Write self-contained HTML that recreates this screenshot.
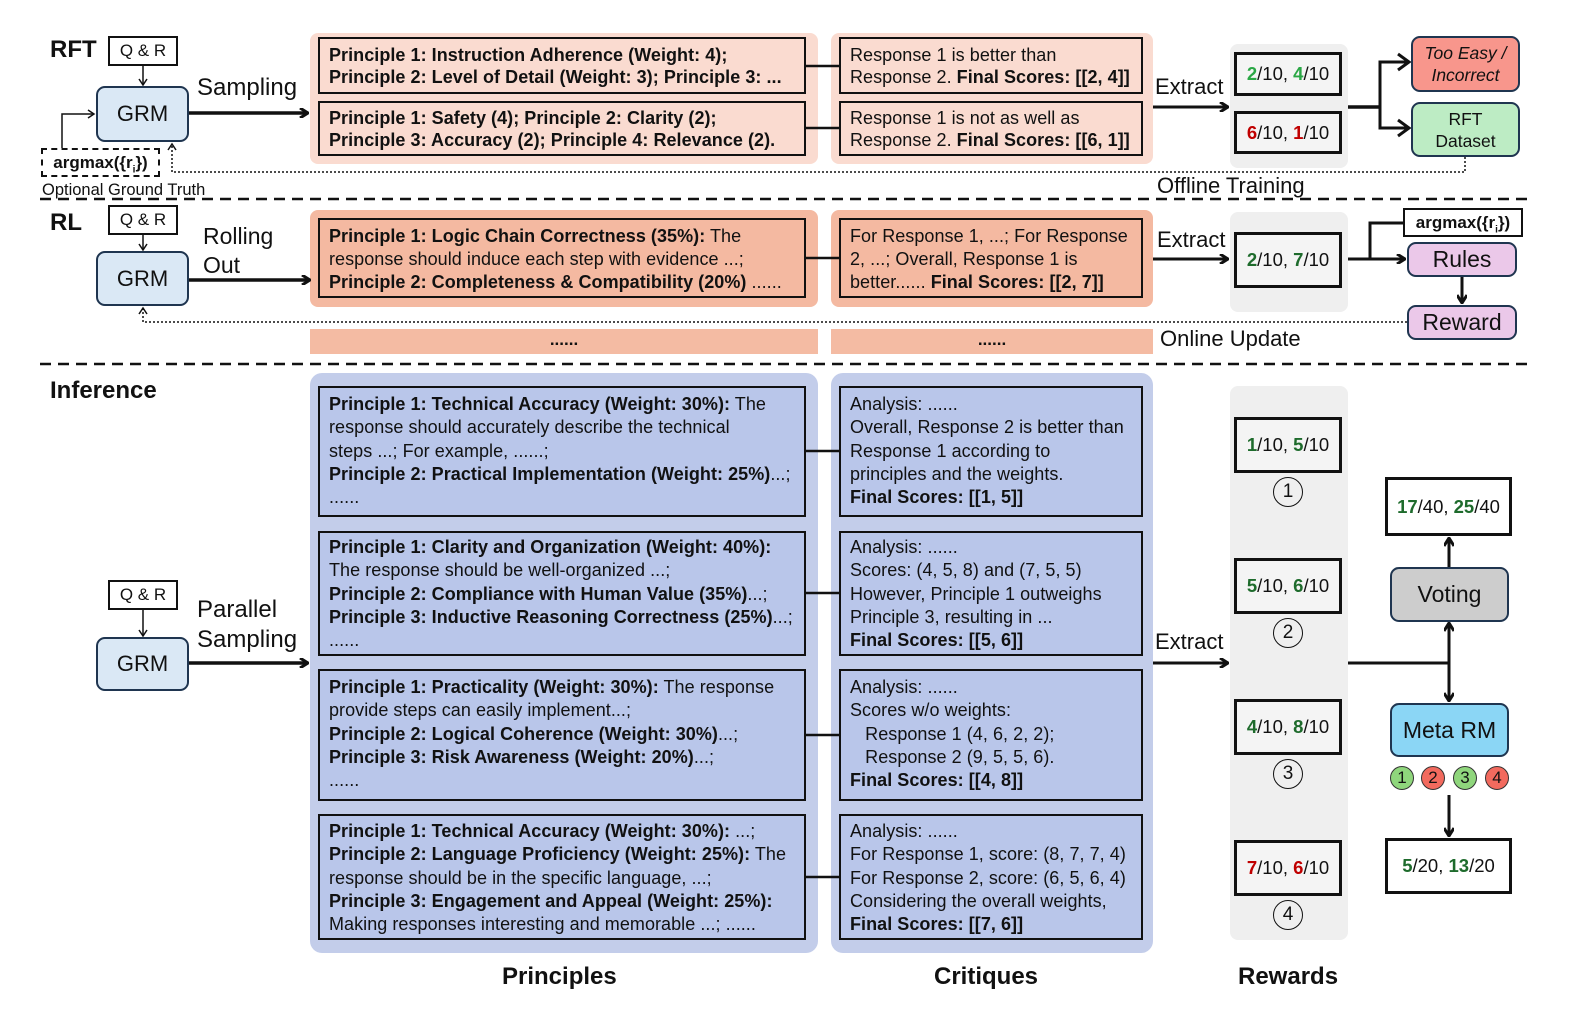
<!DOCTYPE html>
<html><head><meta charset="utf-8"><style>
body{margin:0;width:1570px;height:1024px;background:#fff;position:relative;overflow:hidden;font-family:"Liberation Sans",sans-serif;color:#111}
.a{position:absolute;box-sizing:border-box}
.bx{position:absolute;box-sizing:border-box;border:2px solid #111;font-size:18px;line-height:23.3px;padding:5px 9px;white-space:nowrap;letter-spacing:0.05px}
.rnd{border-radius:9px;border:2px solid #1f3550;display:flex;align-items:center;justify-content:center;text-align:center}
.t{position:absolute;white-space:nowrap}
b{font-weight:bold}
.g{color:#2aa745;font-weight:bold}.dg{color:#1e6b2c;font-weight:bold}.r{color:#c00000;font-weight:bold}
.sc{position:absolute;box-sizing:border-box;border:3px solid #111;background:#f4f4f4;font-size:18.5px;display:flex;align-items:center;justify-content:center}
.circ{position:absolute;width:30px;height:30px;border:1.5px solid #111;border-radius:50%;box-sizing:border-box;text-align:center;line-height:27px;font-size:19px}
.mc{position:absolute;width:24px;height:24px;border:1.5px solid #333;border-radius:50%;box-sizing:border-box;text-align:center;line-height:21px;font-size:17px}
</style></head><body>
<div class="a" style="left:310px;top:33px;width:508px;height:131px;background:#fadbd0;border-radius:8px"></div>
<div class="a" style="left:831px;top:33px;width:322px;height:131px;background:#fadbd0;border-radius:8px"></div>
<div class="a" style="left:1230px;top:44px;width:118px;height:124px;background:#efefef;border-radius:8px"></div>
<div class="a" style="left:310px;top:210px;width:508px;height:97px;background:#f4b9a1;border-radius:8px"></div>
<div class="a" style="left:831px;top:210px;width:322px;height:97px;background:#f4b9a1;border-radius:8px"></div>
<div class="a" style="left:1230px;top:212px;width:118px;height:100px;background:#efefef;border-radius:8px"></div>
<div class="a" style="left:310px;top:329px;width:508px;height:25px;background:#f4bba3;text-align:center;font-weight:bold;font-size:17px;line-height:22px">......</div>
<div class="a" style="left:831px;top:329px;width:322px;height:25px;background:#f4bba3;text-align:center;font-weight:bold;font-size:17px;line-height:22px">......</div>
<div class="a" style="left:310px;top:373px;width:508px;height:580px;background:#c3cdea;border-radius:12px"></div>
<div class="a" style="left:831px;top:373px;width:322px;height:580px;background:#c3cdea;border-radius:12px"></div>
<div class="a" style="left:1230px;top:386px;width:118px;height:554px;background:#efefef;border-radius:8px"></div>

<svg class="a" style="left:0;top:0" width="1570" height="1024">
<defs><marker id="ar" markerWidth="10" markerHeight="10" refX="8" refY="5" orient="auto" markerUnits="userSpaceOnUse"><path d="M1,0 L9,5 L1,10" fill="none" stroke="#111" stroke-width="3"/></marker>
<marker id="as" markerWidth="10" markerHeight="10" refX="8" refY="5" orient="auto" markerUnits="userSpaceOnUse"><path d="M2,1 L8,5 L2,9" fill="none" stroke="#111" stroke-width="1.5"/></marker></defs>
<g stroke="#111" fill="none">
<line x1="40" y1="199" x2="1530" y2="199" stroke-width="2.5" stroke-dasharray="11,7"/>
<line x1="40" y1="364" x2="1530" y2="364" stroke-width="2.5" stroke-dasharray="11,7"/>
<line x1="143" y1="66" x2="143" y2="85" stroke-width="1.5" marker-end="url(#as)"/>
<line x1="143" y1="235" x2="143" y2="250" stroke-width="1.5" marker-end="url(#as)"/>
<line x1="143" y1="610" x2="143" y2="636" stroke-width="1.5" marker-end="url(#as)"/>
<polyline points="62,148 62,114 94,114" stroke-width="1.5" marker-end="url(#as)"/>
<polyline points="1465,157 1465,172 172,172 172,144" stroke-width="1.5" stroke-dasharray="2,2" marker-end="url(#as)"/>
<polyline points="1407,322 143,322 143,308" stroke-width="1.5" stroke-dasharray="2,2" marker-end="url(#as)"/>
<line x1="189" y1="113" x2="307" y2="113" stroke-width="3.5" marker-end="url(#ar)"/>
<line x1="189" y1="280" x2="309" y2="280" stroke-width="3.5" marker-end="url(#ar)"/>
<line x1="189" y1="663" x2="307" y2="663" stroke-width="3.5" marker-end="url(#ar)"/>
<line x1="806" y1="66" x2="839" y2="66" stroke-width="2.5"/>
<line x1="806" y1="128" x2="839" y2="128" stroke-width="2.5"/>
<line x1="806" y1="258" x2="839" y2="258" stroke-width="2.5"/>
<line x1="806" y1="451" x2="839" y2="451" stroke-width="2.5"/>
<line x1="806" y1="593" x2="839" y2="593" stroke-width="2.5"/>
<line x1="806" y1="735" x2="839" y2="735" stroke-width="2.5"/>
<line x1="806" y1="877" x2="839" y2="877" stroke-width="2.5"/>
<line x1="1153" y1="107" x2="1227" y2="107" stroke-width="3" marker-end="url(#ar)"/>
<line x1="1153" y1="259" x2="1227" y2="259" stroke-width="3" marker-end="url(#ar)"/>
<line x1="1153" y1="663" x2="1227" y2="663" stroke-width="3" marker-end="url(#ar)"/>
<line x1="1348" y1="107" x2="1380" y2="107" stroke-width="3.5"/>
<polyline points="1408,62 1380,62 1380,128 1408,128" stroke-width="3"/>
<path d="M1398,54 L1409,62 L1398,70 M1398,120 L1409,128 L1398,136" stroke-width="3"/>
<line x1="1348" y1="259" x2="1404" y2="259" stroke-width="3" marker-end="url(#ar)"/>
<polyline points="1370,259 1370,223 1403,223" stroke-width="3"/>
<line x1="1462" y1="277" x2="1462" y2="302" stroke-width="3" marker-end="url(#ar)"/>
<line x1="1348" y1="663" x2="1449" y2="663" stroke-width="3"/>
<line x1="1449" y1="663" x2="1449" y2="624" stroke-width="3" marker-end="url(#ar)"/>
<line x1="1449" y1="567" x2="1449" y2="539" stroke-width="3" marker-end="url(#ar)"/>
<line x1="1449" y1="663" x2="1449" y2="700" stroke-width="3" marker-end="url(#ar)"/>
<line x1="1449" y1="795" x2="1449" y2="835" stroke-width="3" marker-end="url(#ar)"/>
</g></svg>

<div class="t" style="left:50px;top:36px;font-size:24px;font-weight:bold">RFT</div>
<div class="t" style="left:50px;top:209px;font-size:24px;font-weight:bold">RL</div>
<div class="t" style="left:50px;top:377px;font-size:24px;font-weight:bold">Inference</div>
<div class="a" style="left:108px;top:36px;width:70px;height:30px;border:2px solid #111;text-align:center;line-height:26px;font-size:17px">Q &amp; R</div>
<div class="a" style="left:108px;top:205px;width:70px;height:30px;border:2px solid #111;text-align:center;line-height:26px;font-size:17px">Q &amp; R</div>
<div class="a" style="left:108px;top:580px;width:70px;height:30px;border:2px solid #111;text-align:center;line-height:26px;font-size:17px">Q &amp; R</div>
<div class="a rnd" style="left:96px;top:86px;width:93px;height:56px;background:#dae8f5;font-size:22px">GRM</div>
<div class="a rnd" style="left:96px;top:251px;width:93px;height:55px;background:#dae8f5;font-size:22px">GRM</div>
<div class="a rnd" style="left:96px;top:637px;width:93px;height:54px;background:#dae8f5;font-size:22px">GRM</div>
<div class="a" style="left:41px;top:148px;width:119px;height:29px;border:2px dashed #111;background:#fff;font-weight:bold;font-size:17px;text-align:center;line-height:25px">argmax({r<sub style="font-size:10px">i</sub>})</div>
<div class="t" style="left:42px;top:181px;font-size:16.5px">Optional Ground Truth</div>
<div class="t" style="left:197px;top:74px;font-size:24px">Sampling</div>
<div class="t" style="left:203px;top:222px;font-size:23px;line-height:29px">Rolling<br>Out</div>
<div class="t" style="left:197px;top:595px;font-size:24px;line-height:30px">Parallel<br>Sampling</div>

<div class="bx" style="left:318px;top:37px;width:488px;height:57px;line-height:22px;padding-top:5px"><b>Principle 1: Instruction Adherence (Weight: 4);<br>Principle 2: Level of Detail (Weight: 3); Principle 3: ...</b></div>
<div class="bx" style="left:318px;top:101px;width:488px;height:55px;line-height:22px;padding-top:4px"><b>Principle 1: Safety (4); Principle 2: Clarity (2);<br>Principle 3: Accuracy (2); Principle 4: Relevance (2).</b></div>
<div class="bx" style="left:839px;top:37px;width:304px;height:57px;line-height:22px;padding-top:5px">Response 1 is better than<br>Response 2. <b>Final Scores: [[2, 4]]</b></div>
<div class="bx" style="left:839px;top:101px;width:304px;height:55px;line-height:22px;padding-top:4px">Response 1 is not as well as<br>Response 2. <b>Final Scores: [[6, 1]]</b></div>
<div class="t" style="left:1155px;top:74px;font-size:22px">Extract</div>
<div class="sc" style="left:1234px;top:52px;width:108px;height:44px"><span class="g">2</span>/10,&nbsp;<span class="g">4</span>/10</div>
<div class="sc" style="left:1234px;top:111px;width:108px;height:43px"><span class="r">6</span>/10,&nbsp;<span class="r">1</span>/10</div>
<div class="a rnd" style="left:1411px;top:36px;width:109px;height:56px;background:#f8968c;font-size:17.5px;font-style:italic;line-height:22px">Too Easy /<br>Incorrect</div>
<div class="a rnd" style="left:1411px;top:102px;width:109px;height:55px;background:#bdecc4;font-size:17.5px;line-height:22px">RFT<br>Dataset</div>
<div class="t" style="left:1157px;top:173px;font-size:22px">Offline Training</div>

<div class="bx" style="left:318px;top:218px;width:488px;height:80px;line-height:23px;padding-top:5px"><b>Principle 1: Logic Chain Correctness (35%):</b> The<br>response should induce each step with evidence ...;<br><b>Principle 2: Completeness &amp; Compatibility (20%)</b> ......</div>
<div class="bx" style="left:839px;top:218px;width:304px;height:80px;line-height:23px;padding-top:5px">For Response 1, ...; For Response<br>2, ...; Overall, Response 1 is<br>better...... <b>Final Scores: [[2, 7]]</b></div>
<div class="t" style="left:1157px;top:227px;font-size:22px">Extract</div>
<div class="sc" style="left:1234px;top:232px;width:108px;height:56px"><span class="dg">2</span>/10,&nbsp;<span class="dg">7</span>/10</div>
<div class="a" style="left:1403px;top:208px;width:120px;height:29px;border:2px solid #111;background:#fff;font-weight:bold;font-size:17px;text-align:center;line-height:25px">argmax({r<sub style="font-size:10px">i</sub>})</div>
<div class="a rnd" style="left:1407px;top:242px;width:110px;height:35px;background:#ebc8e9;font-size:23px">Rules</div>
<div class="a rnd" style="left:1407px;top:305px;width:110px;height:35px;background:#ebc8e9;font-size:23px">Reward</div>
<div class="t" style="left:1160px;top:326px;font-size:22px">Online Update</div>

<div class="bx" style="left:318px;top:386px;width:488px;height:131px;background:#b9c6ea"><b>Principle 1: Technical Accuracy (Weight: 30%):</b> The<br>response should accurately describe the technical<br>steps ...; For example, ......;<br><b>Principle 2: Practical Implementation (Weight: 25%)</b>...;<br>......</div>
<div class="bx" style="left:318px;top:531px;width:488px;height:125px;background:#b9c6ea;padding-top:3px"><b>Principle 1: Clarity and Organization (Weight: 40%):</b><br>The response should be well-organized ...;<br><b>Principle 2: Compliance with Human Value (35%)</b>...;<br><b>Principle 3: Inductive Reasoning Correctness (25%)</b>...;<br>......</div>
<div class="bx" style="left:318px;top:669px;width:488px;height:132px;background:#b9c6ea"><b>Principle 1: Practicality (Weight: 30%):</b> The response<br>provide steps can easily implement...;<br><b>Principle 2: Logical Coherence (Weight: 30%)</b>...;<br><b>Principle 3: Risk Awareness (Weight: 20%)</b>...;<br>......</div>
<div class="bx" style="left:318px;top:814px;width:488px;height:126px;background:#b9c6ea;padding-top:4px"><b>Principle 1: Technical Accuracy (Weight: 30%):</b> ...;<br><b>Principle 2: Language Proficiency (Weight: 25%):</b> The<br>response should be in the specific language, ...;<br><b>Principle 3: Engagement and Appeal (Weight: 25%):</b><br>Making responses interesting and memorable ...; ......</div>
<div class="bx" style="left:839px;top:386px;width:304px;height:131px;background:#b9c6ea">Analysis: ......<br>Overall, Response 2 is better than<br>Response 1 according to<br>principles and the weights.<br><b>Final Scores: [[1, 5]]</b></div>
<div class="bx" style="left:839px;top:531px;width:304px;height:125px;background:#b9c6ea;padding-top:3px">Analysis: ......<br>Scores: (4, 5, 8) and (7, 5, 5)<br>However, Principle 1 outweighs<br>Principle 3, resulting in ...<br><b>Final Scores: [[5, 6]]</b></div>
<div class="bx" style="left:839px;top:669px;width:304px;height:132px;background:#b9c6ea">Analysis: ......<br>Scores w/o weights:<br>&nbsp;&nbsp;&nbsp;Response 1 (4, 6, 2, 2);<br>&nbsp;&nbsp;&nbsp;Response 2 (9, 5, 5, 6).<br><b>Final Scores: [[4, 8]]</b></div>
<div class="bx" style="left:839px;top:814px;width:304px;height:126px;background:#b9c6ea;padding-top:4px">Analysis: ......<br>For Response 1, score: (8, 7, 7, 4)<br>For Response 2, score: (6, 5, 6, 4)<br>Considering the overall weights,<br><b>Final Scores: [[7, 6]]</b></div>
<div class="t" style="left:1155px;top:629px;font-size:22px">Extract</div>
<div class="sc" style="left:1234px;top:417px;width:108px;height:56px"><span class="dg">1</span>/10,&nbsp;<span class="dg">5</span>/10</div>
<div class="sc" style="left:1234px;top:558px;width:108px;height:56px"><span class="dg">5</span>/10,&nbsp;<span class="dg">6</span>/10</div>
<div class="sc" style="left:1234px;top:699px;width:108px;height:56px"><span class="dg">4</span>/10,&nbsp;<span class="dg">8</span>/10</div>
<div class="sc" style="left:1234px;top:840px;width:108px;height:56px"><span class="r">7</span>/10,&nbsp;<span class="r">6</span>/10</div>
<div class="circ" style="left:1273px;top:477px">1</div>
<div class="circ" style="left:1273px;top:618px">2</div>
<div class="circ" style="left:1273px;top:759px">3</div>
<div class="circ" style="left:1273px;top:900px">4</div>
<div class="a" style="left:1385px;top:477px;width:127px;height:59px;border:3px solid #111;background:#fff;font-size:18.5px;display:flex;align-items:center;justify-content:center"><span class="dg">17</span>/40,&nbsp;<span class="dg">25</span>/40</div>
<div class="a rnd" style="left:1390px;top:567px;width:119px;height:55px;background:#cdcdcd;font-size:23px">Voting</div>
<div class="a rnd" style="left:1390px;top:703px;width:119px;height:54px;background:#8bd6f5;font-size:23px">Meta RM</div>
<div class="mc" style="left:1390px;top:766px;background:#8fd67c">1</div>
<div class="mc" style="left:1421px;top:766px;background:#f26a5e">2</div>
<div class="mc" style="left:1453px;top:766px;background:#8fd67c">3</div>
<div class="mc" style="left:1485px;top:766px;background:#f26a5e">4</div>
<div class="a" style="left:1385px;top:838px;width:127px;height:56px;border:3px solid #111;background:#fff;font-size:18.5px;display:flex;align-items:center;justify-content:center"><span class="dg">5</span>/20,&nbsp;<span class="dg">13</span>/20</div>
<div class="t" style="left:502px;top:963px;font-size:24px;font-weight:bold">Principles</div>
<div class="t" style="left:934px;top:963px;font-size:24px;font-weight:bold">Critiques</div>
<div class="t" style="left:1238px;top:963px;font-size:24px;font-weight:bold">Rewards</div>
</body></html>
